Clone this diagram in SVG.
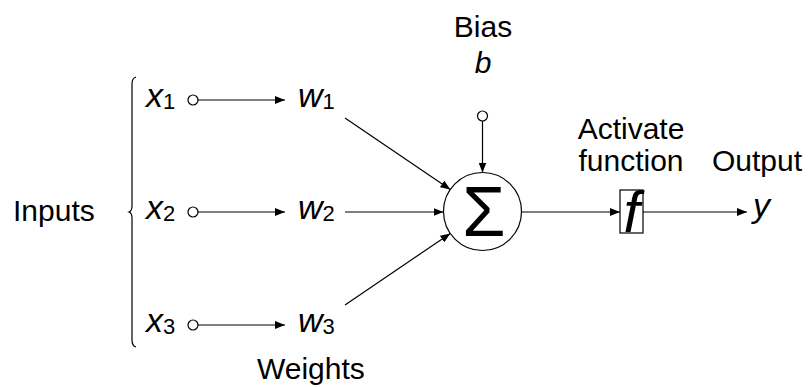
<svg xmlns="http://www.w3.org/2000/svg" width="811" height="387" viewBox="0 0 811 387">
<style>
.t{font-family:"Liberation Sans",Arial,sans-serif;font-size:30px;fill:#000}
.v{font-size:34px;font-style:italic}
.i{font-style:italic}
.s{font-size:22px;font-style:normal}
.ln{stroke:#000;stroke-width:1.2;fill:none}
.dot{fill:#fff;stroke:#000;stroke-width:1.2}
</style>
<defs>
<marker id="ah" viewBox="0 0 10 8" refX="10" refY="4" markerWidth="10" markerHeight="8" markerUnits="userSpaceOnUse" orient="auto">
<path d="M0,0 L10,4 L0,8 Z" fill="#000"/>
</marker>
</defs>
<rect width="811" height="387" fill="#fff"/>
<g id="labels">
<text class="t" x="13" y="221">Inputs</text>
<text class="t" x="257" y="379">Weights</text>
<text class="t" x="483" y="37" text-anchor="middle">Bias</text>
<text class="t i" x="483" y="73" text-anchor="middle">b</text>
<text class="t" x="631" y="139" text-anchor="middle">Activate</text>
<text class="t" x="631" y="171" text-anchor="middle">function</text>
<text class="t" x="757" y="171" text-anchor="middle">Output</text>
</g>
<g id="brace"><path class="ln" d="M136,77 Q132,78 132,84 L132,206 Q132,211 129,212 Q132,213 132,218 L132,340 Q132,346 136,347"/></g>
<g id="x1"><text class="t v" x="146" y="107">x<tspan class="s" dy="2">1</tspan></text><circle class="dot" cx="193" cy="100" r="5"/></g>
<g id="x2"><text class="t v" x="146" y="219">x<tspan class="s" dy="2">2</tspan></text><circle class="dot" cx="193" cy="212" r="5"/></g>
<g id="x3"><text class="t v" x="146" y="332">x<tspan class="s" dy="2">3</tspan></text><circle class="dot" cx="193" cy="325" r="5"/></g>
<g id="w1"><text class="t v" x="298" y="107">w<tspan class="s" dy="2">1</tspan></text></g>
<g id="w2"><text class="t v" x="298" y="219">w<tspan class="s" dy="2">2</tspan></text></g>
<g id="w3"><text class="t v" x="298" y="332">w<tspan class="s" dy="2">3</tspan></text></g>
<g id="bias"><circle class="dot" cx="482.5" cy="116" r="5"/></g>
<g id="sum"><circle cx="482.5" cy="211.5" r="39" fill="#fff" stroke="#000" stroke-width="1.2"/><text x="484" y="236" text-anchor="middle" style="font-family:'Liberation Sans',Arial,sans-serif;font-size:70px">Σ</text></g>
<g id="f"><rect x="620" y="190" width="23" height="43" fill="#fff" stroke="#000" stroke-width="1.2"/><text class="t i" x="631.5" y="232" text-anchor="middle" style="font-size:58px">f</text></g>
<g id="y"><text class="t v" x="753" y="217">y</text></g>
<g id="connectors">
<line class="ln" x1="198" y1="100" x2="285" y2="100" marker-end="url(#ah)"/>
<line class="ln" x1="198" y1="212" x2="285" y2="212" marker-end="url(#ah)"/>
<line class="ln" x1="198" y1="325" x2="285" y2="325" marker-end="url(#ah)"/>
<line class="ln" x1="345" y1="118" x2="450.3" y2="189.6" marker-end="url(#ah)"/>
<line class="ln" x1="345" y1="212" x2="443.5" y2="212" marker-end="url(#ah)"/>
<line class="ln" x1="345" y1="305" x2="450.3" y2="233.4" marker-end="url(#ah)"/>
<line class="ln" x1="482.5" y1="121" x2="482.5" y2="172.5" marker-end="url(#ah)"/>
<line class="ln" x1="521.5" y1="212" x2="620" y2="212" marker-end="url(#ah)"/>
<line class="ln" x1="643" y1="212" x2="747" y2="212" marker-end="url(#ah)"/>
</g>
</svg>
